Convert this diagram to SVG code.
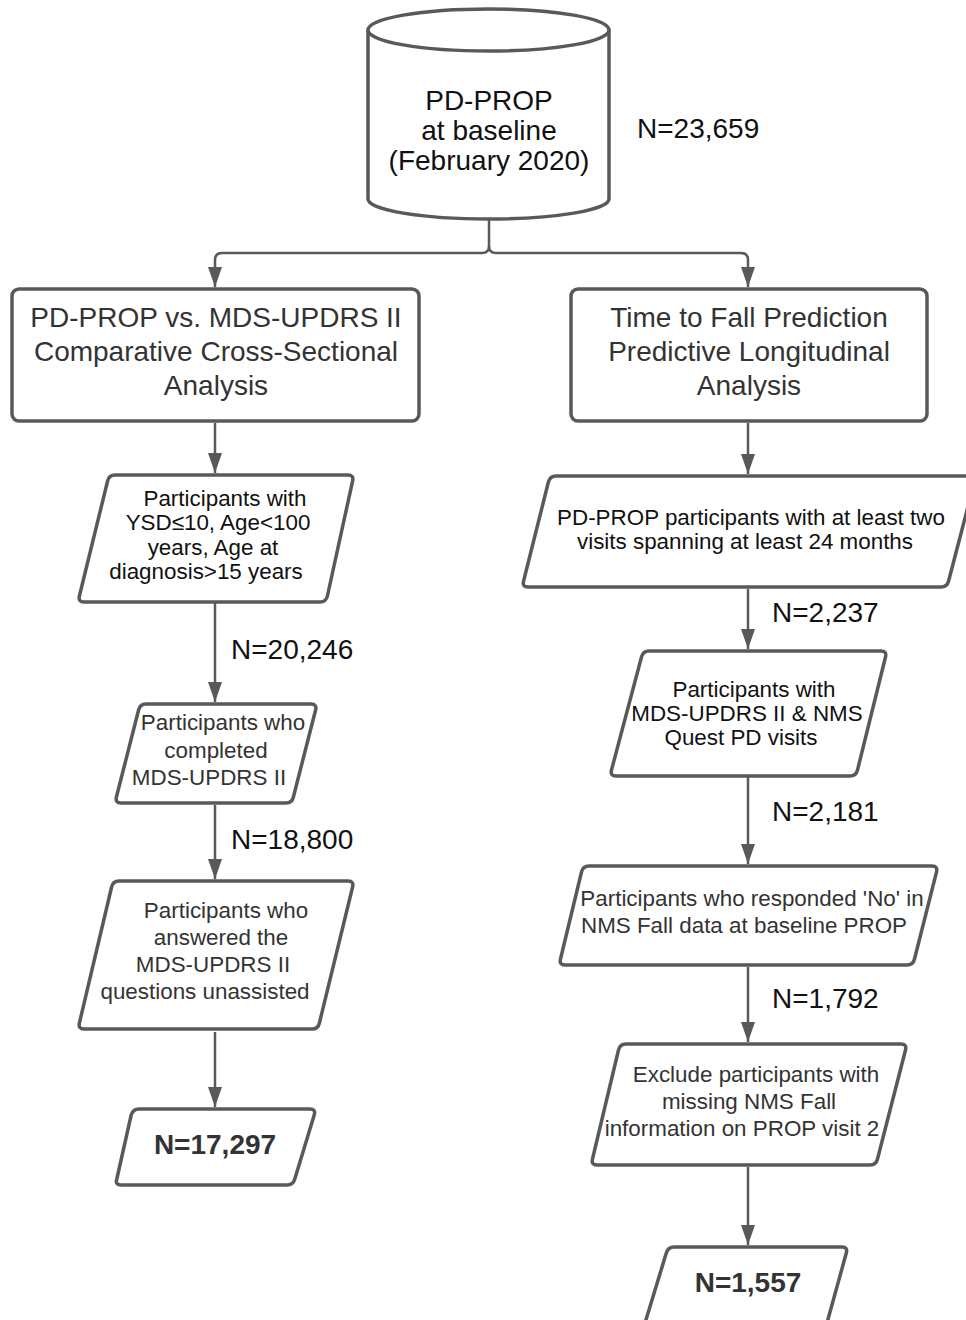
<svg xmlns="http://www.w3.org/2000/svg" width="966" height="1320" viewBox="0 0 966 1320">
<style>
.sh{fill:#fff;stroke:#595959;stroke-width:3.5;stroke-linejoin:round}
.cn{fill:none;stroke:#595959;stroke-width:2.5}
.t28{font-family:"Liberation Sans",Arial,sans-serif;font-size:28px;fill:#111;text-anchor:middle}
.h{font-family:"Liberation Sans",Arial,sans-serif;font-size:28px;fill:#333;text-anchor:middle}
.p{font-family:"Liberation Sans",Arial,sans-serif;font-size:22.4px;fill:#111;text-anchor:middle}
.q{font-family:"Liberation Sans",Arial,sans-serif;font-size:22.4px;fill:#333;text-anchor:middle}
.n{font-family:"Liberation Sans",Arial,sans-serif;font-size:28px;fill:#111}
.b{font-family:"Liberation Sans",Arial,sans-serif;font-size:28px;font-weight:bold;fill:#333;text-anchor:middle}
</style>
<defs>
<marker id="ah" viewBox="0 0 14 20" refX="7" refY="20" markerWidth="14" markerHeight="20" markerUnits="userSpaceOnUse" orient="0">
<path d="M0,0 L14,0 L7,20 z" fill="#595959"/>
</marker>
</defs>
<rect width="966" height="1320" fill="#fff"/>
<g id="connectors">
<path class="cn" d="M489,219 V246 Q489,253 482,253 H222 Q215,253 215,260 V287" marker-end="url(#ah)"/>
<path class="cn" d="M489,246 Q489,253 496,253 H741 Q748,253 748,260 V287" marker-end="url(#ah)"/>
<path class="cn" d="M215,423 V473" marker-end="url(#ah)"/>
<path class="cn" d="M748,423 V474" marker-end="url(#ah)"/>
<path class="cn" d="M215,603 V702" marker-end="url(#ah)"/>
<path class="cn" d="M215,805 V879" marker-end="url(#ah)"/>
<path class="cn" d="M215,1032 V1107" marker-end="url(#ah)"/>
<path class="cn" d="M748,589 V649" marker-end="url(#ah)"/>
<path class="cn" d="M748,777 V864" marker-end="url(#ah)"/>
<path class="cn" d="M748,967 V1042" marker-end="url(#ah)"/>
<path class="cn" d="M748,1167 V1245" marker-end="url(#ah)"/>
</g>
<g id="start">
<path class="sh" d="M368,30 V199 A120.5,20 0 0 0 609,199 V30 A120.5,21 0 0 0 368,30 Z"/>
<path class="sh" d="M368,30 A120.5,21 0 0 0 609,30"/>
<text class="t28" x="489" y="110">PD-PROP</text>
<text class="t28" x="489" y="140">at baseline</text>
<text class="t28" x="489" y="170">(February 2020)</text>
</g>
<g id="n-label-0"><text class="n" x="637" y="138">N=23,659</text></g>
<g id="left-head">
<rect class="sh" x="12" y="289" width="407" height="132" rx="7"/>
<text class="h" x="216" y="327">PD-PROP vs. MDS-UPDRS II</text>
<text class="h" x="216" y="361">Comparative Cross-Sectional</text>
<text class="h" x="216" y="395">Analysis</text>
</g>
<g id="right-head">
<rect class="sh" x="571" y="289" width="356" height="132" rx="7"/>
<text class="h" x="749" y="327">Time to Fall Prediction</text>
<text class="h" x="749" y="361">Predictive Longitudinal</text>
<text class="h" x="749" y="395">Analysis</text>
</g>
<g id="l1">
<path class="sh" d="M115,475 H348 Q354,475 352.6,481 L327.4,596 Q326,602 320,602 H84 Q78,602 79.4,596 L107.6,481 Q109,475 115,475 Z"/>
<text class="p" x="225" y="506">Participants with</text>
<text class="p" x="218" y="530">YSD≤10, Age&lt;100</text>
<text class="p" x="213" y="555">years, Age at</text>
<text class="p" x="206" y="579">diagnosis&gt;15 years</text>
</g>
<g id="n-label-1"><text class="n" x="231" y="659">N=20,246</text></g>
<g id="l2">
<path class="sh" d="M146,704 H311 Q317,704 315.6,710 L293.4,797 Q292,803 286,803 H121 Q115,803 116.4,797 L138.6,710 Q140,704 146,704 Z"/>
<text class="q" x="223" y="730">Participants who</text>
<text class="q" x="216" y="758">completed</text>
<text class="q" x="209" y="785">MDS-UPDRS II</text>
</g>
<g id="n-label-2"><text class="n" x="231" y="849">N=18,800</text></g>
<g id="l3">
<path class="sh" d="M119,881 H348 Q354,881 352.6,887 L319.4,1023 Q318,1029 312,1029 H84 Q78,1029 79.4,1023 L111.6,887 Q113,881 119,881 Z"/>
<text class="q" x="226" y="918">Participants who</text>
<text class="q" x="221" y="945">answered the</text>
<text class="q" x="213" y="972">MDS-UPDRS II</text>
<text class="q" x="205" y="999">questions unassisted</text>
</g>
<g id="l4">
<path class="sh" d="M139,1109 H310 Q316,1109 314.2,1115 L294.8,1179 Q293,1185 287,1185 H121 Q115,1185 116.8,1179 L131.2,1115 Q133,1109 139,1109 Z"/>
<text class="b" x="215" y="1154">N=17,297</text>
</g>
<g id="r1">
<path class="sh" d="M556,476 H970 Q976,476 974.4,482 L948.6,581 Q947,587 941,587 H528 Q522,587 523.6,581 L548.4,482 Q550,476 556,476 Z"/>
<text class="p" x="751" y="525">PD-PROP participants with at least two</text>
<text class="p" x="745" y="549">visits spanning at least 24 months</text>
</g>
<g id="n-label-3"><text class="n" x="772" y="622">N=2,237</text></g>
<g id="r2">
<path class="sh" d="M649,651 H881 Q887,651 885.5,657 L857.5,770 Q856,776 850,776 H616 Q610,776 611.5,770 L641.5,657 Q643,651 649,651 Z"/>
<text class="p" x="754" y="697">Participants with</text>
<text class="p" x="747" y="721">MDS-UPDRS II &amp; NMS</text>
<text class="p" x="741" y="745">Quest PD visits</text>
</g>
<g id="n-label-4"><text class="n" x="772" y="821">N=2,181</text></g>
<g id="r3">
<path class="sh" d="M589,866 H932 Q938,866 936.5,872 L914.5,959 Q913,965 907,965 H565 Q559,965 560.5,959 L581.5,872 Q583,866 589,866 Z"/>
<text class="q" x="752" y="906">Participants who responded 'No' in</text>
<text class="q" x="744" y="933">NMS Fall data at baseline PROP</text>
</g>
<g id="n-label-5"><text class="n" x="772" y="1008">N=1,792</text></g>
<g id="r4">
<path class="sh" d="M626,1044 H901 Q907,1044 905.5,1050 L877.5,1159 Q876,1165 870,1165 H597 Q591,1165 592.5,1159 L618.5,1050 Q620,1044 626,1044 Z"/>
<text class="q" x="756" y="1082">Exclude participants with</text>
<text class="q" x="749" y="1109">missing NMS Fall</text>
<text class="q" x="742" y="1136">information on PROP visit 2</text>
</g>
<g id="r5">
<path class="sh" d="M674,1247 H842 Q848,1247 846.3,1253 L826.7,1324 Q825,1330 819,1330 H649 Q643,1330 644.7,1324 L666.3,1253 Q668,1247 674,1247 Z"/>
<text class="b" x="748" y="1292">N=1,557</text>
</g>
</svg>
